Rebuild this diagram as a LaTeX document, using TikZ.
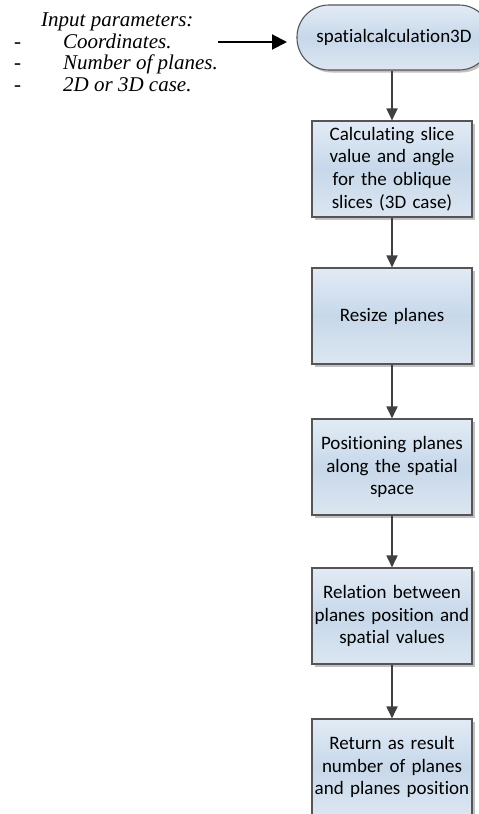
\documentclass[tikz,border=0pt]{standalone}
\usepackage{fontspec}
\setmainfont{Liberation Serif}
\newfontfamily\boxfont[Ligatures=NoCommon]{Carlito}
\usetikzlibrary{arrows.meta,shadows}

\definecolor{boxtop}{HTML}{E2EBF5}
\definecolor{boxmid}{HTML}{C7D8EA}
\definecolor{boxbot}{HTML}{DCE6F1}
\definecolor{boxline}{HTML}{555555}
\definecolor{flowline}{HTML}{404040}

\tikzset{
  stepbox/.style={
    draw=boxline, line width=1.1pt,
    top color=boxtop, bottom color=boxbot, middle color=boxmid,
    minimum width=160pt, minimum height=96pt, inner sep=0pt,
    text width=160pt, align=center,
    font=\boxfont\fontsize{19}{22.8}\selectfont,
    drop shadow={shadow xshift=2.5pt, shadow yshift=-2.5pt, fill=black!35, opacity=0.7}
  },
  startbox/.style={
    stepbox, rounded corners=32pt,
    minimum width=194pt, minimum height=65pt, text width=194pt
  },
  flow/.style={draw=flowline, line width=1.8pt,
    -{Triangle[width=11pt,length=12pt]}},
  inarrow/.style={draw=black, line width=2pt,
    -{Triangle[width=15pt,length=15pt]}},
  paramtext/.style={anchor=base west, inner sep=0pt,
    font=\fontsize{21}{21.5}\selectfont\itshape},
  dashtext/.style={anchor=base west, inner sep=0pt,
    font=\fontsize{21}{21.5}\selectfont}
}

\begin{document}
\begin{tikzpicture}[x=1pt,y=-1pt]
  \useasboundingbox (0,0) rectangle (479,814);
  \clip (0,0) rectangle (479,814);

  % flow chart steps
  \node[startbox] (start) at (394,37.5) {spatialcalculation3D};
  \node[stepbox] (slice) at (392,169)
    {Calculating slice\\ value and angle\\ for the oblique\\ slices (3D case)};
  \node[stepbox] (resize) at (392,316) {Resize planes};
  \node[stepbox] (position) at (392,467)
    {Positioning planes\\ along the spatial\\ space};
  \node[stepbox] (relation) at (392,616)
    {Relation between\\ planes position and\\ spatial values};
  \node[stepbox] (result) at (392,767)
    {Return as result\\ number of planes\\ and planes position};

  % connectors between steps
  \draw[flow] (start.south -| slice.north) -- (slice.north);
  \draw[flow] (slice.south) -- (resize.north);
  \draw[flow] (resize.south) -- (position.north);
  \draw[flow] (position.south) -- (relation.north);
  \draw[flow] (relation.south) -- (result.north);

  % input parameters
  \node[paramtext] (ptitle) at (41,26) {Input parameters:};
  \node[dashtext] (d1) at (14,48.3) {-};
  \node[paramtext] (p1) at (63,48.3) {Coordinates.};
  \node[dashtext] (d2) at (14,69.5) {-};
  \node[paramtext] (p2) at (63,69.5) {Number of planes.};
  \node[dashtext] (d3) at (14,91) {-};
  \node[paramtext] (p3) at (63,91) {2D or 3D case.};

  \coordinate (inStart) at (218,42);
  \coordinate (inEnd) at (287,42);
  \draw[inarrow] (inStart) -- (inEnd);
\end{tikzpicture}
\end{document}
